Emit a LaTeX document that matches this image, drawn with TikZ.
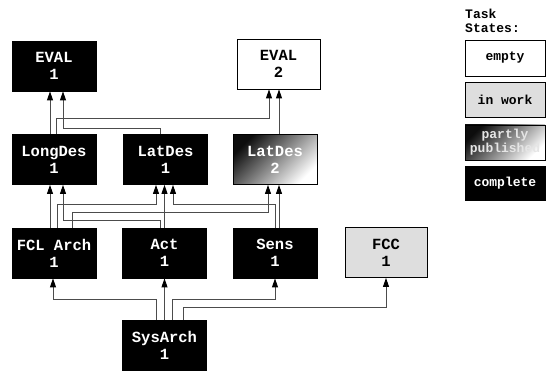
\documentclass[tikz,border=0pt]{standalone}
\usepackage{fontspec}
\setmonofont{Liberation Mono}
\usetikzlibrary{arrows.meta,calc}
\tikzset{
  task/.style={draw=black, line width=0.8pt, minimum width=84pt, minimum height=50pt,
    inner sep=0pt, align=center, font=\ttfamily\bfseries\fontsize{15.5}{17}\selectfont},
  complete/.style={task, fill=black, text=white},
  emptytask/.style={task, fill=white, text=black},
  inwork/.style={task, fill=black!13, text=black},
  partly/.style={task, top color=black!95, bottom color=white, shading angle=45, text=white},
  legendbox/.style={minimum width=80pt, minimum height=35pt,
    font=\ttfamily\bfseries\fontsize{13}{14}\selectfont},
  conn/.style={draw=black!70, line width=0.9pt, -{Triangle[length=9pt,width=6pt,color=black,fill=black]}}
}
\begin{document}
\begin{tikzpicture}[x=1pt,y=-1pt]
\useasboundingbox (0,0) rectangle (546,371);
% task nodes
\node[complete]  (EVALa)   at (54,66)      {EVAL\\1};
\node[emptytask, minimum width=83pt] (EVALb) at (278.5,64) {EVAL\\2};
\node[complete]  (LongDes) at (54,159.5)   {LongDes\\1};
\node[complete]  (LatDesa) at (165.5,159.5){LatDes\\1};
\node[partly]    (LatDesb) at (275,159.5)  {LatDes\\2};
\node[complete]  (FCL)     at (54,253)     {FCL Arch\\1};
\node[complete]  (Act)     at (164.5,253)  {Act\\1};
\node[complete]  (Sens)    at (275,253)    {Sens\\1};
\node[inwork, minimum width=82pt] (FCC) at (386,252.5) {FCC\\1};
\node[complete]  (Sys)     at (164.5,345)  {SysArch\\1};
% top level connectors
\draw[conn] ([xshift=-4pt]LongDes.north) -- ([xshift=-4pt]LongDes.north |- EVALa.south);
\draw[conn] ([xshift=2pt]LongDes.north) -- ++(0,-16) -| ([xshift=-9.5pt]EVALb.south);
\draw[conn] ([xshift=-5.5pt]LatDesa.north) -- ++(0,-6) -| ([xshift=9pt]EVALa.south);
\draw[conn] ([xshift=4pt]LatDesb.north) -- ([xshift=4pt]LatDesb.north |- EVALb.south);
% middle level connectors
\draw[conn] ([xshift=-4pt]FCL.north) -- ([xshift=-4pt]FCL.north |- LongDes.south);
\draw[conn] ([xshift=3pt]FCL.north) -- ++(0,-23) -| ([xshift=-9.5pt]LatDesa.south);
\draw[conn] ([xshift=18pt]FCL.north) -- ++(0,-15) -| ([xshift=-7pt]LatDesb.south);
\draw[conn] ([xshift=-4.5pt]Act.north) -- ++(0,-7) -| ([xshift=9pt]LongDes.south);
\draw[conn] (Act.north) -- (Act.north |- LatDesa.south);
\draw[conn] (Sens.north) -- ++(0,-23) -| ([xshift=7.5pt]LatDesa.south);
\draw[conn] ([xshift=4pt]Sens.north) -- ([xshift=4pt]Sens.north |- LatDesb.south);
% bottom level connectors
\draw[conn] ([xshift=-8.5pt]Sys.north) -- ++(0,-20) -| ([xshift=-1pt]FCL.south);
\draw[conn] (Sys.north) -- (Sys.north |- Act.south);
\draw[conn] ([xshift=7.5pt]Sys.north) -- ++(0,-20) -| (Sens.south);
\draw[conn] ([xshift=18.5pt]Sys.north) -- ++(0,-12) -| (FCC.south);
% legend
\node[anchor=north west, align=left, inner sep=0pt,
  font=\ttfamily\bfseries\fontsize{13}{14}\selectfont] (title) at (465,9) {Task\\States:};
\node[emptytask, legendbox, minimum height=36pt] (Lempty) at (505,58)    {empty};
\node[inwork, legendbox]   (Lwork)  at (505,99.5)  {in work};
\node[partly, legendbox, text=black!10] (Lpart) at (505,142.5) {partly\\published};
\node[complete, legendbox, minimum height=34pt] (Lcomp) at (505,183) {complete};
\end{tikzpicture}
\end{document}
